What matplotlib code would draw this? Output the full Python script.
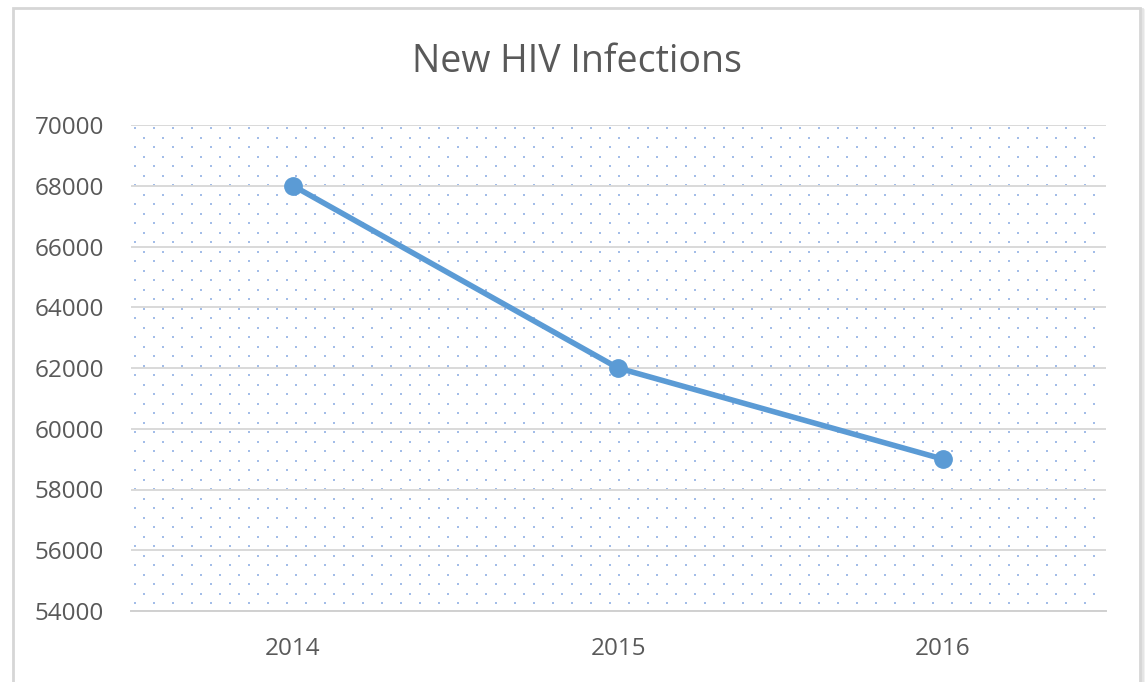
import matplotlib.pyplot as plt
import numpy as np
from matplotlib.patches import Rectangle

years = ['2014', '2015', '2016']
infections = [68000, 62000, 59000]
y_ticks = [54000, 56000, 58000, 60000, 62000, 64000, 66000, 68000, 70000]

W, H = 1147, 682
fig = plt.figure(figsize=(W / 100, H / 100), dpi=100)
plt.rcParams['font.family'] = ['Open Sans', 'DejaVu Sans']

# chart frame with a soft shadow on the right
for i, c in enumerate(['#f0f0f0', '#e4e4e4']):
    fig.patches.append(Rectangle((13 / W + (3 - i) / W, -0.1), 1127 / W, 1 - 8 / H + 0.1 - (2 - i) / H,
                                 transform=fig.transFigure, fill=False, edgecolor=c, lw=2, zorder=-3))
fig.patches.append(Rectangle((13 / W, -0.1), 1127 / W, 1 - 8 / H + 0.1, transform=fig.transFigure,
                             facecolor='white', edgecolor='#d6d6d6', lw=2, zorder=-2))

left, right, top, bottom = 130.5, 1105.5, 125, 611
ax = fig.add_axes([left / W, 1 - bottom / H, (right - left) / W, (bottom - top) / H])
ax.set_facecolor('none')

x = np.arange(len(years))
ax.set_xlim(-0.5, len(years) - 0.5)
ax.set_ylim(54000, 70000)

# dotted pattern fill of the plot area (staggered grid, ~19px x 9.5px)
pw, ph = right - left, bottom - top
gx = np.arange(4, pw, 19.0)
rows = np.arange(3, ph, 9.5)
px, py = [], []
for k, r in enumerate(rows):
    off = 0 if k % 2 == 0 else 9.5
    xs = gx + off
    xs = xs[xs < pw - 2]
    px.extend(xs / pw)
    py.extend([1 - r / ph] * len(xs))
ax.scatter(px, py, s=3.6, marker='s', color='#a3bde8', linewidths=0, transform=ax.transAxes, zorder=0)

ax.set_yticks(y_ticks)
ax.grid(axis='y', color='#d9d9d9', lw=1.4, zorder=1)
ax.set_axisbelow(True)
for s in ['top', 'right', 'left']:
    ax.spines[s].set_visible(False)
ax.spines['bottom'].set_color('#d0d0d0')
ax.spines['bottom'].set_linewidth(1.4)

ax.plot(x, infections, color='#5b9bd5', lw=4, marker='o', markersize=12.5, zorder=3,
        solid_capstyle='round')

ax.set_xticks(x)
ax.set_xticklabels(years)
ax.tick_params(axis='both', length=0, labelsize=17.5, labelcolor='#595959')
ax.tick_params(axis='y', pad=19)
ax.tick_params(axis='x', pad=19)

fig.text(577 / W, 1 - 62 / H, 'New HIV Infections', ha='center', va='center',
         fontsize=27, color='#595959')

fig.savefig('out.png', dpi=100)
